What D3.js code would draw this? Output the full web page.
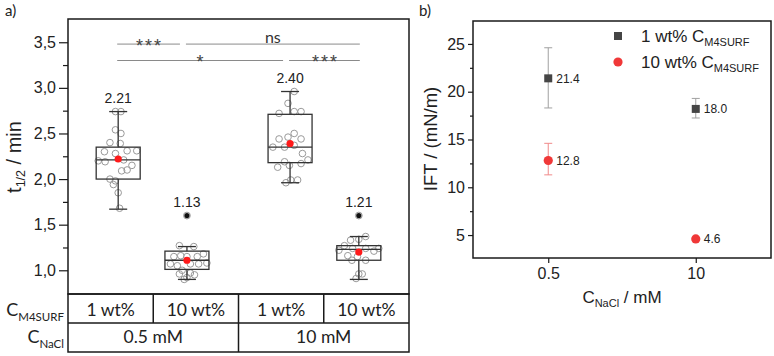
<!DOCTYPE html>
<html>
<head>
<meta charset="utf-8">
<title>Half-life and IFT</title>
<script src="https://cdn.jsdelivr.net/npm/d3@7"></script>
<style>
	body { margin: 0; background: #fff; }
	svg text { font-family: "Liberation Sans", Arial, sans-serif; fill: #222; }
	svg text.cal { font-family: Lato, "Open Sans", sans-serif; }
	.frame { fill: none; stroke: #1a1a1a; stroke-width: 1.5; }
	.axis path { display: none; }
	.axis line { stroke: #1a1a1a; stroke-width: 1.2; }
	.axis text { font-size: 16px; fill: #222; }
	.box { fill: none; stroke: #333; stroke-width: 1.3; }
	.raw { fill: none; stroke: #9a9a9a; stroke-width: 1; }
	.bracket { stroke: #8a8a8a; stroke-width: 1; }
	.cell { stroke: #1a1a1a; stroke-width: 1.5; }
</style>
</head>
<body>
<div id="chart"></div>
<script>
// panel a) - half-life per sample
var samples = ["1 wt%", "10 wt%", "1 wt%", "10 wt%"];
var saltGroups = ["0.5 mM", "10 mM"];
var samplePos = [1, 2, 3.5, 4.5];
var whiskerLow = [1.67, 0.90, 1.96, 0.90];
var q1 = [2.00, 1.01, 2.18, 1.11];
var median = [2.21, 1.11, 2.35, 1.23];
var q3 = [2.35, 1.21, 2.71, 1.27];
var whiskerHigh = [2.74, 1.26, 2.96, 1.37];
var means = [2.22, 1.11, 2.39, 1.20];
var meanLabels = ["2.21", "1.13", "2.40", "1.21"];
var outliers = [null, 1.60, null, 1.60];

var rawValues = [
	[2.74, 2.74, 2.54, 2.50, 2.40, 2.39, 2.30, 2.28, 2.31, 2.31, 2.20, 2.19, 2.21, 2.15, 2.09, 2.10, 2.00, 1.98, 1.94, 1.85, 1.68],
	[1.27, 1.26, 1.15, 1.16, 1.18, 1.07, 1.05, 1.07, 1.07, 1.08, 1.00, 0.97, 0.96, 0.95, 0.92, 0.90, 1.15, 1.15],
	[2.96, 2.83, 2.72, 2.74, 2.74, 2.50, 2.44, 2.46, 2.44, 2.35, 2.35, 2.37, 2.28, 2.21, 2.19, 2.13, 2.15, 2.17, 1.99, 1.99, 1.96],
	[1.37, 1.33, 1.34, 1.27, 1.22, 1.24, 1.24, 1.21, 1.24, 1.16, 1.15, 1.11, 1.11, 0.96, 0.96, 0.91]
];
var rawJitter = [
	[-0.04, 0.04, -0.04, 0.04, -0.12, 0.03, -0.20, -0.04, 0.13, 0.27, -0.29, -0.19, 0.08, 0.20, 0.05, 0.13, -0.12, -0.04, -0.07, 0.00, 0.02],
	[-0.11, 0.10, -0.19, -0.09, 0.24, -0.24, -0.14, 0.05, 0.17, 0.29, -0.07, 0.05, -0.11, 0.11, 0.00, -0.04, 0.00, 0.15],
	[0.06, -0.03, -0.16, 0.06, 0.16, 0.06, -0.16, -0.03, 0.16, -0.25, -0.08, 0.06, 0.18, 0.26, -0.08, -0.18, -0.01, 0.16, 0.01, 0.11, -0.06],
	[0.10, -0.12, 0.00, -0.21, -0.29, -0.09, 0.10, 0.22, 0.29, -0.16, -0.02, 0.10, -0.10, 0.00, 0.05, -0.04]
];

// significance brackets (sample index from/to)
var bracketFrom = [0, 1, 0, 2];
var bracketTo = [1, 3, 2, 3];
var bracketLevel = [3.48, 3.48, 3.30, 3.30];
var bracketLabel = ["***", "ns", "*", "***"];

var yTicksA = [1.0, 1.5, 2.0, 2.5, 3.0, 3.5];
var yMinorA = [1.25, 1.75, 2.25, 2.75, 3.25];

// panel b) - interfacial tension
var naclLabels = ["0.5", "10"];
var ift1 = [21.4, 18.2];
var ift1Lo = [18.3, 17.25];
var ift1Hi = [24.6, 19.3];
var ift1Labels = ["21.4", "18.0"];
var ift10 = [12.8, 4.6];
var ift10Lo = [11.3, 4.6];
var ift10Hi = [14.6, 4.6];
var ift10Labels = ["12.8", "4.6"];
var yTicksB = [5, 10, 15, 20, 25];
var yMinorB = [7.5, 12.5, 17.5, 22.5];

var svg = d3.select("#chart").append("svg")
	.attr("width", 774)
	.attr("height", 356);

// ---------- panel a ----------
var xA = d3.scaleLinear().domain([0.27, 5.23]).range([68, 409]);
var yA = d3.scaleLinear().domain([0.74, 3.755]).range([294, 19]);

svg.append("text").attr("class", "cal").attr("x", 5).attr("y", 16)
	.style("font-size", "15px").text("a)");

svg.append("g").attr("class", "axis")
	.attr("transform", "translate(68,0)")
	.call(d3.axisLeft(yA).tickValues(yTicksA).tickSize(9).tickPadding(3)
		.tickFormat(function(d) { return d3.format(".1f")(d).replace(".", ","); }));
svg.append("g").attr("class", "axis")
	.attr("transform", "translate(68,0)")
	.call(d3.axisLeft(yA).tickValues(yMinorA).tickSize(5).tickFormat(""));

var tLabel = svg.append("text")
	.attr("transform", "translate(21,157) rotate(-90)")
	.attr("text-anchor", "middle")
	.style("font-size", "20px");
tLabel.append("tspan").text("t");
tLabel.append("tspan").attr("dy", 4).style("font-size", "12.5px").text("1/2");
tLabel.append("tspan").attr("dy", -4).text(" / min");

// brackets
bracketFrom.forEach(function(f, i) {
	var t = bracketTo[i];
	var continues = bracketFrom.some(function(g, k) { return k != i && bracketLevel[k] == bracketLevel[i] && g == t; });
	var x1 = xA(samplePos[f]) - 1,
		x2 = xA(samplePos[t]) + (continues ? -7 : 1),
		y = yA(bracketLevel[i]);
	svg.append("line").attr("class", "bracket")
		.attr("x1", x1).attr("x2", x2).attr("y1", y).attr("y2", y);
	var star = bracketLabel[i].indexOf("*") >= 0;
	if (star) {
		svg.append("text")
			.attr("x", (x1 + x2) / 2 + 1)
			.attr("y", y + 7.5)
			.attr("text-anchor", "middle")
			.style("font-size", "18px")
			.style("letter-spacing", "2px")
			.style("fill", "#444")
			.text(bracketLabel[i]);
	} else {
		svg.append("text").attr("class", "cal")
			.attr("x", (x1 + x2) / 2)
			.attr("y", y - 1.5)
			.attr("text-anchor", "middle")
			.style("font-size", "16px")
			.style("fill", "#333")
			.text(bracketLabel[i]);
	}
});

// raw points
rawValues.forEach(function(vals, i) {
	svg.selectAll(null)
		.data(vals)
		.enter()
		.append("circle")
		.attr("class", "raw")
		.attr("cx", function(d, k) { return xA(samplePos[i] + rawJitter[i][k]); })
		.attr("cy", function(d) { return yA(d); })
		.attr("r", 3.3);
});

// boxes
var boxW = 44, capW = 18;
samples.forEach(function(s, i) {
	var cx = xA(samplePos[i]);
	var g = svg.append("g");
	g.append("line").attr("class", "box").attr("x1", cx).attr("x2", cx)
		.attr("y1", yA(whiskerHigh[i])).attr("y2", yA(q3[i]));
	g.append("line").attr("class", "box").attr("x1", cx).attr("x2", cx)
		.attr("y1", yA(q1[i])).attr("y2", yA(whiskerLow[i]));
	[whiskerHigh[i], whiskerLow[i]].forEach(function(w) {
		g.append("line").attr("class", "box")
			.attr("x1", cx - capW / 2).attr("x2", cx + capW / 2)
			.attr("y1", yA(w)).attr("y2", yA(w));
	});
	g.append("rect").attr("class", "box")
		.attr("x", cx - boxW / 2).attr("width", boxW)
		.attr("y", yA(q3[i])).attr("height", yA(q1[i]) - yA(q3[i]));
	g.append("line").attr("class", "box")
		.attr("x1", cx - boxW / 2).attr("x2", cx + boxW / 2)
		.attr("y1", yA(median[i])).attr("y2", yA(median[i]));
	g.append("circle").attr("cx", cx).attr("cy", yA(means[i])).attr("r", 3.6)
		.attr("fill", "#ff1a1a");
	var top = yA(whiskerHigh[i]);
	if (outliers[i] != null) {
		g.append("circle").attr("cx", cx).attr("cy", yA(outliers[i])).attr("r", 3.4)
			.attr("fill", "none").attr("stroke", "#999");
		g.append("circle").attr("cx", cx).attr("cy", yA(outliers[i])).attr("r", 2.6)
			.attr("fill", "#111");
		top = yA(outliers[i]);
	}
	g.append("text").attr("x", cx).attr("y", top - 8.5)
		.attr("text-anchor", "middle")
		.style("font-size", "14px")
		.text(meanLabels[i]);
});

svg.append("rect").attr("class", "frame")
	.attr("x", 68).attr("y", 19).attr("width", 409 - 68).attr("height", 294 - 19);

// table under panel a
var tL = 68, tR = 409, rowTop = [294, 323], rowH = 29;
var colW = (tR - tL) / samples.length;
svg.append("rect").attr("class", "frame")
	.attr("x", tL).attr("y", rowTop[0]).attr("width", tR - tL).attr("height", rowH * 2);
svg.append("line").attr("class", "cell")
	.attr("x1", tL).attr("x2", tR).attr("y1", rowTop[1]).attr("y2", rowTop[1]);
samples.forEach(function(s, i) {
	if (i > 0) {
		svg.append("line").attr("class", "cell")
			.attr("x1", tL + i * colW).attr("x2", tL + i * colW)
			.attr("y1", rowTop[0]).attr("y2", rowTop[1]);
	}
	svg.append("text").attr("class", "cal")
		.attr("x", tL + (i + 0.5) * colW).attr("y", rowTop[0] + 22)
		.attr("text-anchor", "middle").style("font-size", "17.5px").text(s);
});
var groupW = (tR - tL) / saltGroups.length;
saltGroups.forEach(function(s, i) {
	if (i > 0) {
		svg.append("line").attr("class", "cell")
			.attr("x1", tL + i * groupW).attr("x2", tL + i * groupW)
			.attr("y1", rowTop[1]).attr("y2", rowTop[1] + rowH);
	}
	svg.append("text").attr("class", "cal")
		.attr("x", tL + (i + 0.5) * groupW).attr("y", rowTop[1] + 20)
		.attr("text-anchor", "middle").style("font-size", "17.5px").text(s);
});

function rowLabel(sub, y) {
	var t = svg.append("text").attr("class", "cal")
		.attr("x", 64).attr("y", y)
		.attr("text-anchor", "end")
		.style("font-size", "18px");
	t.append("tspan").text("C");
	t.append("tspan").attr("dy", 5).style("font-size", "11.5px").text(sub);
}
rowLabel("M4SURF", 316);
rowLabel("NaCl", 343);

// ---------- panel b ----------
var xB = d3.scaleLinear().domain([0.49, 2.51]).range([473, 771]);
var yB = d3.scaleLinear().domain([2.6, 27.4]).range([258, 21]);

svg.append("text").attr("class", "cal").attr("x", 419).attr("y", 16)
	.style("font-size", "15px").text("b)");

svg.append("g").attr("class", "axis")
	.attr("transform", "translate(473,0)")
	.call(d3.axisLeft(yB).tickValues(yTicksB).tickSize(5).tickPadding(3));
svg.append("g").attr("class", "axis")
	.attr("transform", "translate(473,0)")
	.call(d3.axisLeft(yB).tickValues(yMinorB).tickSize(3).tickFormat(""));
svg.append("g").attr("class", "axis")
	.attr("transform", "translate(0,258)")
	.call(d3.axisBottom(xB).tickValues([1, 2]).tickSize(5).tickPadding(5)
		.tickFormat(function(d, i) { return naclLabels[i]; }));

svg.append("text")
	.attr("transform", "translate(437,139) rotate(-90)")
	.attr("text-anchor", "middle")
	.style("font-size", "18.5px")
	.text("IFT / (mN/m)");

var xTitle = svg.append("text")
	.attr("x", 622).attr("y", 303)
	.attr("text-anchor", "middle")
	.style("font-size", "17px");
xTitle.append("tspan").text("C");
xTitle.append("tspan").attr("dy", 4).style("font-size", "11px").text("NaCl");
xTitle.append("tspan").attr("dy", -4).text(" / mM");

function errorBars(vals, lo, hi, color) {
	vals.forEach(function(v, i) {
		if (hi[i] - lo[i] < 0.01) return;
		var cx = xB(i + 1);
		svg.append("line").attr("x1", cx).attr("x2", cx)
			.attr("y1", yB(lo[i])).attr("y2", yB(hi[i]))
			.attr("stroke", color).attr("stroke-width", 1);
		[lo[i], hi[i]].forEach(function(e) {
			svg.append("line").attr("x1", cx - 4).attr("x2", cx + 4)
				.attr("y1", yB(e)).attr("y2", yB(e))
				.attr("stroke", color).attr("stroke-width", 1);
		});
	});
}
errorBars(ift1, ift1Lo, ift1Hi, "#a0a0a0");
errorBars(ift10, ift10Lo, ift10Hi, "#f08a8a");

svg.selectAll(".sq")
	.data(ift1)
	.enter()
	.append("rect")
	.attr("class", "sq")
	.attr("x", function(d, i) { return xB(i + 1) - 4; })
	.attr("y", function(d) { return yB(d) - 4; })
	.attr("width", 8).attr("height", 8)
	.attr("fill", "#454545");
svg.selectAll(".dot")
	.data(ift10)
	.enter()
	.append("circle")
	.attr("class", "dot")
	.attr("cx", function(d, i) { return xB(i + 1); })
	.attr("cy", function(d) { return yB(d); })
	.attr("r", 4.6)
	.attr("fill", "#f03838");

[[ift1, ift1Labels], [ift10, ift10Labels]].forEach(function(s) {
	s[0].forEach(function(v, i) {
		svg.append("text")
			.attr("x", xB(i + 1) + 8).attr("y", yB(v) + 4.5)
			.style("font-size", "12px")
			.text(s[1][i]);
	});
});

svg.append("rect").attr("class", "frame")
	.attr("x", 473).attr("y", 21).attr("width", 771 - 473).attr("height", 258 - 21);

// legend
var legend = [
	{ label: "1 wt% C", color: "#454545", shape: "square" },
	{ label: "10 wt% C", color: "#f03838", shape: "circle" }
];
legend.forEach(function(l, i) {
	var y = 36 + i * 26;
	if (l.shape == "square") {
		svg.append("rect").attr("x", 614).attr("y", y - 4).attr("width", 8).attr("height", 8)
			.attr("fill", l.color);
	} else {
		svg.append("circle").attr("cx", 618).attr("cy", y).attr("r", 4.6).attr("fill", l.color);
	}
	var t = svg.append("text").attr("x", 641).attr("y", y + 5.5).style("font-size", "17px");
	t.append("tspan").text(l.label);
	t.append("tspan").attr("dy", 4).style("font-size", "11px").text("M4SURF");
});
</script>
</body>
</html>
